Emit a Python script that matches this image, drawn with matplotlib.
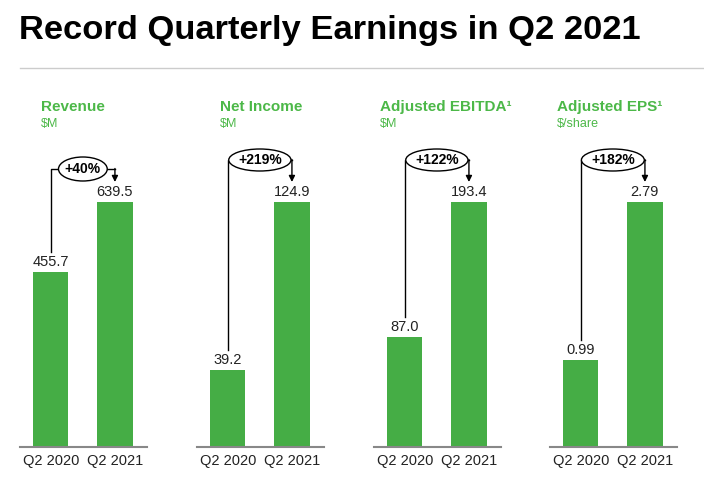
import numpy as np
import matplotlib.pyplot as plt
from matplotlib.patches import Ellipse
from matplotlib.lines import Line2D

plt.rcParams['font.family'] = ['Liberation Sans', 'DejaVu Sans']

periods = ["Q2 2020", "Q2 2021"]
metrics = ["Revenue", "Net Income", "Adjusted EBITDA\u00b9", "Adjusted EPS\u00b9"]
units = ["$M", "$M", "$M", "$/share"]
q2_2020 = [455.7, 39.2, 87.0, 0.99]
q2_2021 = [639.5, 124.9, 193.4, 2.79]
decimals = [1, 1, 1, 2]
growth = ["+40%", "+219%", "+122%", "+182%"]

green = "#45ad45"
text_green = "#4cb848"

W, H = 704, 478
fig = plt.figure(figsize=(W / 100, H / 100), dpi=100)
fig.text(19 / W, 1 - 31 / H, "Record Quarterly Earnings in Q2 2021",
         fontsize=24.8, fontweight="bold", va="center", ha="left")
fig.add_artist(Line2D([20 / W, 1], [1 - 68 / H] * 2, color="#cccccc", lw=1))

lefts = [20, 197, 374, 550]
title_x = [41, 220, 380, 557]
bracket_px = [33, 42, 42, 42]
ellipse_w = [0.76, 0.97, 0.97, 0.98]
ellipse_h = [24, 22, 22, 22]
base = 447
top_px = 94
bar_px = 245
for i in range(4):
    ax = fig.add_axes([lefts[i] / W, 1 - base / H, 127 / W, (base - top_px) / H])
    vmax = q2_2021[i]
    s = vmax / bar_px  # data units per pixel
    vals = [q2_2020[i], q2_2021[i]]
    ax.bar([0, 1], vals, width=0.55, color=green, zorder=2)
    ax.set_xlim(-0.48, 1.5)
    ax.set_ylim(0, (base - top_px) * s)
    for sp in ["top", "right", "left"]:
        ax.spines[sp].set_visible(False)
    ax.spines["bottom"].set_color("#888888")
    ax.spines["bottom"].set_linewidth(1.5)
    ax.set_yticks([])
    ax.set_xticks([0, 1])
    ax.set_xticklabels(periods, fontsize=10.5, color="#222222")
    ax.tick_params(axis="x", length=0, pad=5)
    for x, v in zip([0, 1], vals):
        ax.text(x, v + 3 * s, f"{v:.{decimals[i]}f}", ha="center", va="bottom",
                fontsize=10.5, color="#222222")

    # growth bracket
    ytop = vals[1] + bracket_px[i] * s
    ax.plot([0, 0, 1], [vals[0] + 20 * s, ytop, ytop], color="black", lw=1, zorder=3)
    ax.annotate("", xy=(1, vals[1] + 20 * s), xytext=(1, ytop + 0.5 * s),
                arrowprops=dict(arrowstyle="-|>", color="black", lw=1,
                                mutation_scale=9, shrinkA=0, shrinkB=0), zorder=3)
    ax.add_patch(Ellipse((0.5, ytop), ellipse_w[i], ellipse_h[i] * s, facecolor="white",
                         edgecolor="black", lw=1, zorder=4))
    ax.text(0.5, ytop, growth[i], ha="center", va="center", fontsize=10,
            fontweight="bold", zorder=5)

    tx = (title_x[i] - lefts[i]) / 127
    ax.text(tx, 1 - (107 - top_px) / (base - top_px), metrics[i], transform=ax.transAxes,
            color=text_green, fontsize=11, fontweight="bold", va="center", ha="left")
    ax.text(tx, 1 - (124 - top_px) / (base - top_px), units[i], transform=ax.transAxes,
            color=text_green, fontsize=9, va="center", ha="left")

fig.savefig("out.png", dpi=100)
